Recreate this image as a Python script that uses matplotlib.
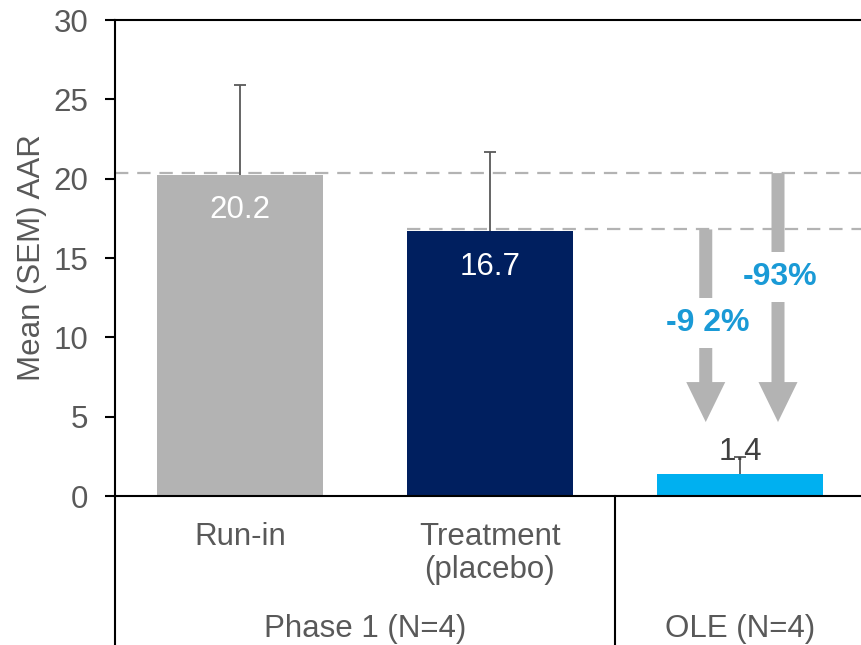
import numpy as np
import matplotlib
matplotlib.use('Agg')
import matplotlib.pyplot as plt

# data
categories = ['Run-in', 'Treatment\n(placebo)', '']
groups = ['Phase 1 (N=4)', 'OLE (N=4)']
mean_aar = [20.2, 16.7, 1.4]
sem_aar = [5.7, 5.0, 1.05]
bar_labels = ['20.2', '16.7', '1.4']
reductions = ['-9 2%', '-93%']
bar_colors = ['#b3b3b3', '#001f5f', '#00b0f0']

text_col = '#595959'
blue_txt = '#1a9ad6'
gray = '#b3b3b3'
fs = 22.5

plt.rcParams['font.family'] = ['Liberation Sans', 'DejaVu Sans']

W, H = 861, 645
fig = plt.figure(figsize=(W / 100, H / 100), dpi=100)
ax = fig.add_axes([115 / W, (645 - 496) / H, 750 / W, 476 / H])

x = np.arange(len(mean_aar))
bw = 0.664
ax.bar(x, mean_aar, width=bw, color=bar_colors, zorder=2)
eb = ax.errorbar(x, mean_aar, yerr=[np.zeros(3), sem_aar], fmt='none',
                 ecolor='#595959', elinewidth=1.3, capsize=4, capthick=1.3, zorder=3)
eb[1][0].set_visible(False)  # only upper caps

# reference dashed lines at run-in and treatment levels
ax.plot([-0.5, 2.5], [mean_aar[0] + 0.15, mean_aar[0] + 0.15], color=gray, lw=1.6,
        ls=(0, (6, 4)), zorder=1.5, clip_on=False)
ax.plot([1 - bw / 2, 2.5], [mean_aar[1] + 0.1, mean_aar[1] + 0.1], color=gray, lw=1.6,
        ls=(0, (6, 4)), zorder=1.5, clip_on=False)

# value labels
ax.text(0, mean_aar[0] - 2.7, bar_labels[0], color='white', fontsize=fs, ha='center', va='baseline', zorder=4)
ax.text(1, mean_aar[1] - 2.8, bar_labels[1], color='white', fontsize=fs, ha='center', va='baseline', zorder=4)
ax.text(2, mean_aar[2] + 0.9, bar_labels[2], color='#404040', fontsize=fs, ha='center', va='baseline', zorder=4)

# reduction arrows
tip = 4.66
arrows = [(1.863, mean_aar[1] + 0.1, 10.9), (2.152, mean_aar[0] + 0.15, 13.8)]
for (ax_x, y0, ty), lab in zip(arrows, reductions):
    ax.arrow(ax_x, y0, 0, tip - y0, width=0.052, head_width=0.156, head_length=2.52,
             length_includes_head=True, color=gray, lw=0, zorder=2)
    ax.text(ax_x + 0.008, ty, lab, color=blue_txt, fontsize=23, fontweight='bold',
            ha='center', va='center', zorder=5,
            bbox=dict(boxstyle='square,pad=0.32', fc='white', ec='none'))

ax.set_xlim(-0.5, 2.5)
ax.set_ylim(0, 30)
ax.set_yticks(range(0, 31, 5))
ax.set_xticks([])
ax.tick_params(axis='y', length=7.2, width=1.5, direction='out', labelsize=fs,
               labelcolor=text_col, pad=12)
ax.set_ylabel('Mean (SEM) AAR', fontsize=fs, color=text_col, labelpad=5)
for s in ['left', 'top', 'bottom']:
    ax.spines[s].set_linewidth(1.5)
ax.spines['right'].set_visible(False)

# category / group axis below the plot
tr = ax.get_xaxis_transform()
for xv in [-0.5, 1.5, 2.5]:
    ax.plot([xv, xv], [0, -0.32], color='black', lw=1.5, transform=tr, clip_on=False)
ax.text(0, -0.103, categories[0], transform=tr, ha='center', va='baseline',
        fontsize=fs, color=text_col)
ax.text(1, -0.172, categories[1], transform=tr, ha='center', va='baseline',
        fontsize=fs, color=text_col, linespacing=1.13)
ax.text(0.5, -0.296, groups[0], transform=tr, ha='center', va='baseline',
        fontsize=fs, color=text_col)
ax.text(2, -0.296, groups[1], transform=tr, ha='center', va='baseline',
        fontsize=fs, color=text_col)

fig.savefig('out.png', dpi=100)
